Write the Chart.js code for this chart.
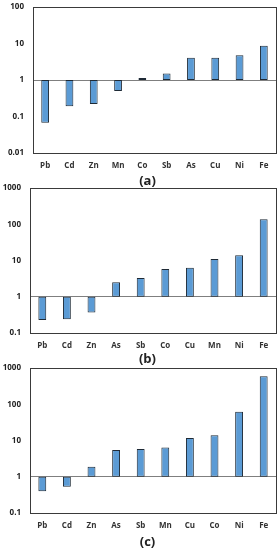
<!DOCTYPE html>
<html lang="en">
<head>
<meta charset="UTF-8">
<title>Enrichment factors</title>
<style>
  body { margin: 0; width: 279px; height: 550px; background: #fff; position: relative; overflow: hidden; }
  .panel { position: absolute; left: 0; width: 279px; height: 175px; }
  .cap { position: absolute; width: 279px; left: 8px; text-align: center; font: bold 13px "Open Sans", sans-serif; color: #222; }
</style>
</head>
<body>
<div class="panel" style="top:0px"><canvas id="chartA"></canvas></div>
<div class="panel" style="top:180px"><canvas id="chartB"></canvas></div>
<div class="panel" style="top:360px"><canvas id="chartC"></canvas></div>
<div class="cap" style="top:171px">(a)</div>
<div class="cap" style="top:349px">(b)</div>
<div class="cap" style="top:532px">(c)</div>

<script src="https://cdn.jsdelivr.net/npm/chart.js"></script>
<script>
  // values (log scale, bars start at 1)
  const labelsA = ["Pb", "Cd", "Zn", "Mn", "Co", "Sb", "As", "Cu", "Ni", "Fe"];
  const valuesA = [0.067, 0.19, 0.22, 0.50, 1.13, 1.5, 4.1, 4.1, 4.8, 8.7];
  const ticksA = [0.01, 0.1, 1, 10, 100];

  const labelsB = ["Pb", "Cd", "Zn", "As", "Sb", "Co", "Cu", "Mn", "Ni", "Fe"];
  const valuesB = [0.23, 0.24, 0.37, 2.5, 3.3, 5.8, 6.3, 11, 14, 138];
  const ticksB = [0.1, 1, 10, 100, 1000];

  const labelsC = ["Pb", "Cd", "Zn", "As", "Sb", "Mn", "Cu", "Co", "Ni", "Fe"];
  const valuesC = [0.40, 0.53, 1.9, 5.5, 5.8, 6.4, 11.7, 14, 62, 590];
  const ticksC = [0.1, 1, 10, 100, 1000];

  const baseLine = 1;

  // frame around the plot area
  const boxPlugin = {
    id: 'box',
    afterDraw(chart) {
      const a = chart.chartArea;
      const c = chart.ctx;
      c.save();
      c.strokeStyle = '#3a3a3a';
      c.lineWidth = 1;
      c.strokeRect(Math.round(a.left) + 0.5, Math.round(a.top) + 0.5,
        Math.round(a.right - a.left), Math.round(a.bottom - a.top));
      c.restore();
    }
  };

  function f_draw(p_id, p_labels, p_values, p_ticks, p_top, p_left) {
    return new Chart(document.getElementById(p_id), {
      type: 'bar',
      data: {
        labels: p_labels,
        datasets: [{
          data: p_values.map(v => [baseLine, v]),
          backgroundColor: '#5b9bd5',
          borderColor: '#1e2a36',
          borderWidth: 1,
          borderSkipped: false,
          barPercentage: 0.32,
          categoryPercentage: 1
        }]
      },
      options: {
        responsive: true,
        maintainAspectRatio: false,
        animation: false,
        layout: { padding: { top: p_top, right: 3, left: 0, bottom: 0 } },
        plugins: { legend: { display: false }, tooltip: { enabled: false } },
        scales: {
          x: {
            grid: { display: false, drawTicks: false },
            border: { display: false },
            ticks: { padding: 8, color: '#333', font: { family: 'Open Sans', size: 8, weight: 'bold' } },
            afterFit(axis) { axis.height = 22; axis.paddingLeft = 0; axis.paddingRight = 0; }
          },
          y: {
            type: 'logarithmic',
            min: p_ticks[0],
            max: p_ticks[p_ticks.length - 1],
            afterBuildTicks(axis) { axis.ticks = p_ticks.map(v => ({ value: v })); },
            afterFit(axis) { axis.width = p_left; axis.paddingTop = 0; axis.paddingBottom = 0; },
            grid: {
              drawTicks: false,
              color: ctx => (ctx.tick && ctx.tick.value === baseLine) ? '#7f7f7f' : 'rgba(0,0,0,0)',
              lineWidth: 1
            },
            border: { display: false },
            ticks: {
              padding: 9,
              color: '#222',
              font: { family: 'Open Sans', size: 8, weight: 'bold' },
              callback: v => String(v)
            }
          }
        }
      },
      plugins: [boxPlugin]
    });
  }

  f_draw('chartA', labelsA, valuesA, ticksA, 7, 33);
  f_draw('chartB', labelsB, valuesB, ticksB, 8, 30);
  f_draw('chartC', labelsC, valuesC, ticksC, 8, 30);
</script>
</body>
</html>
